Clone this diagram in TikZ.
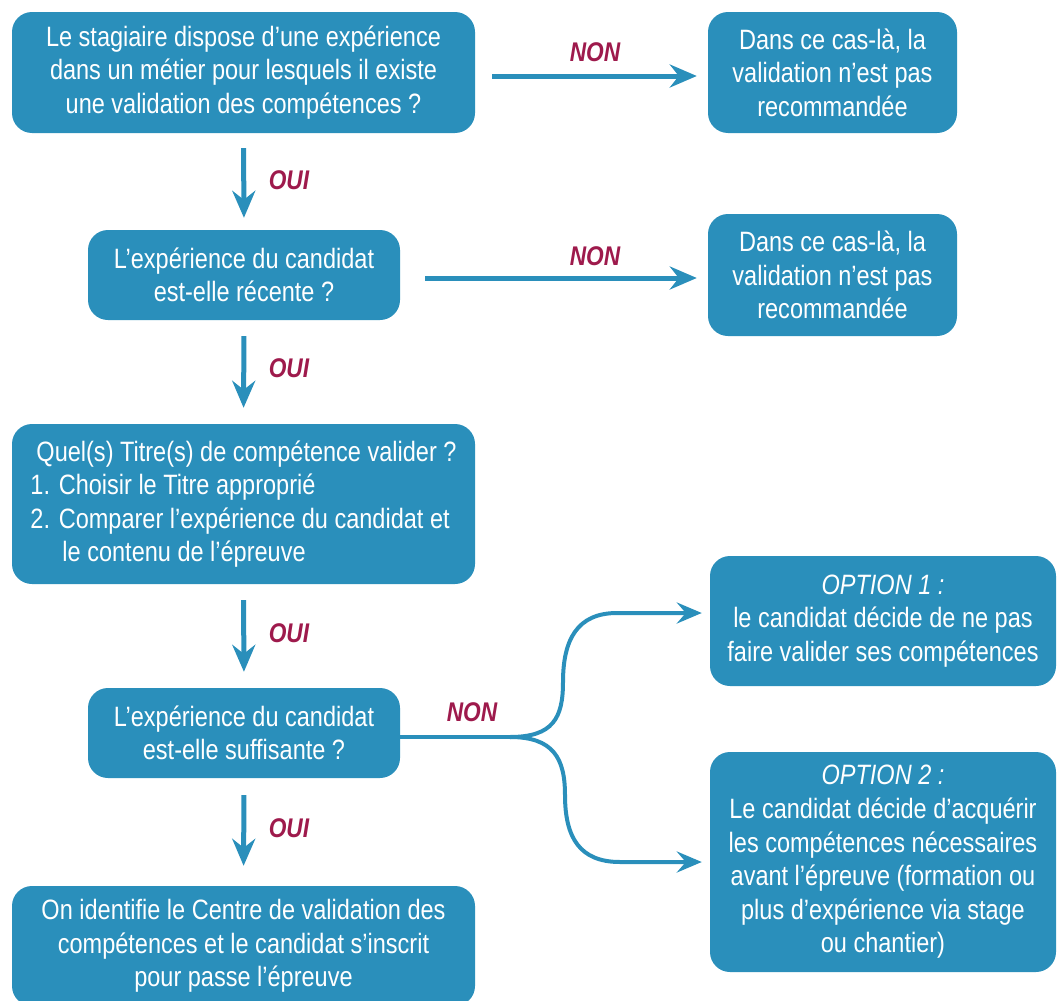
\documentclass[tikz,border=0pt]{standalone}
\usepackage{fontspec}
\setmainfont{Liberation Sans}[FakeStretch=0.84]
\usetikzlibrary{arrows.meta}
\definecolor{boxblue}{HTML}{2A8FBB}
\definecolor{lblred}{HTML}{9E1A4C}
\begin{document}
\begin{tikzpicture}[x=1pt,y=-1pt,
  box/.style={fill=boxblue, rounded corners=20pt, text=white, align=center,
    font=\fontsize{28}{33.6}\selectfont, inner sep=0pt},
  flow/.style={draw=boxblue, line width=5pt,
    -{Stealth[length=27pt,width=23pt,inset=9pt]}},
  curveflow/.style={draw=boxblue, line width=4pt,
    -{Stealth[length=25pt,width=21pt,inset=9pt]}},
  lbl/.style={text=lblred, font=\fontsize{27}{30}\selectfont\bfseries\itshape, inner sep=0pt}
]
\useasboundingbox (0,0) rectangle (1061,1001);

\node[box, minimum width=463pt, minimum height=121pt] (A) at (243.5,72.5)
  {Le stagiaire dispose d’une expérience\\dans un métier pour lesquels il existe\\une validation des compétences ?};
\node[box, minimum width=249pt, minimum height=121pt] (R1) at (832.5,72.5)
  {Dans ce cas-là, la\\validation n’est pas\\recommandée};
\node[box, minimum width=312pt, minimum height=90pt] (B) at (244,275)
  {L’expérience du candidat\\est-elle récente ?};
\node[box, minimum width=249pt, minimum height=122pt] (R2) at (832.5,275)
  {Dans ce cas-là, la\\validation n’est pas\\recommandée};
\node[box, align=left, minimum width=463pt, minimum height=160pt] (C) at (243.5,504)
  {\hspace*{6pt}Quel(s) Titre(s) de compétence valider ?\\1. Choisir le Titre approprié\\2. Comparer l’expérience du candidat et\\\hspace*{32pt}le contenu de l’épreuve};
\node[box, minimum width=312pt, minimum height=90pt] (D) at (244,733)
  {L’expérience du candidat\\est-elle suffisante ?};
\node[box, minimum width=463pt, minimum height=120pt] (E) at (243.5,946)
  {On identifie le Centre de validation des\\compétences et le candidat s’inscrit\\pour passe l’épreuve};
\node[box, minimum width=346pt, minimum height=130pt] (O1) at (883,621)
  {\textit{OPTION 1 :}\\le candidat décide de ne pas\\faire valider ses compétences};
\node[box, minimum width=346pt, minimum height=220pt] (O2) at (883,862)
  {\textit{OPTION 2 :}\\Le candidat décide d’acquérir\\les compétences nécessaires\\avant l’épreuve (formation ou\\plus d’expérience via stage\\ou chantier)};

\draw[flow, shorten <=15pt, shorten >=12pt] (A.south) -- (B.north);
\draw[flow, shorten <=16pt, shorten >=16pt] (B.south) -- (C.north);
\draw[flow, shorten <=16pt, shorten >=16pt] (C.south) -- (D.north);
\draw[flow, shorten <=17pt, shorten >=20pt] (D.south) -- (E.north);
\draw[flow, shorten <=17pt, shorten >=11pt] ([yshift=-3.5pt]A.east) -- ([yshift=-3.5pt]R1.west);
\draw[flow, shorten <=25pt, shorten >=11pt] ([yshift=-3pt]B.east) -- ([yshift=-3pt]R2.west);

\coordinate (split) at (510,737);
\draw[draw=boxblue, line width=4pt] ([yshift=-4pt]D.east) -- (split);
\draw[curveflow, shorten >=8pt] (split) .. controls (553,737) and (563,718) .. (563,682)
  .. controls (563,640) and (577,613) .. (617,613) -- ([yshift=8pt]O1.west);
\draw[curveflow, shorten >=8pt] (split) .. controls (553,737) and (565,758) .. (565,795)
  .. controls (565,838) and (580,862) .. (620,862) -- (O2.west);

\node[lbl] (n1) at (595,52) {NON};
\node[lbl] (n2) at (595,256) {NON};
\node[lbl] (n3) at (472,712) {NON};
\node[lbl] (o1) at (289,180) {OUI};
\node[lbl] (o2) at (289,368) {OUI};
\node[lbl] (o3) at (289,633) {OUI};
\node[lbl] (o4) at (289,828) {OUI};
\end{tikzpicture}
\end{document}
